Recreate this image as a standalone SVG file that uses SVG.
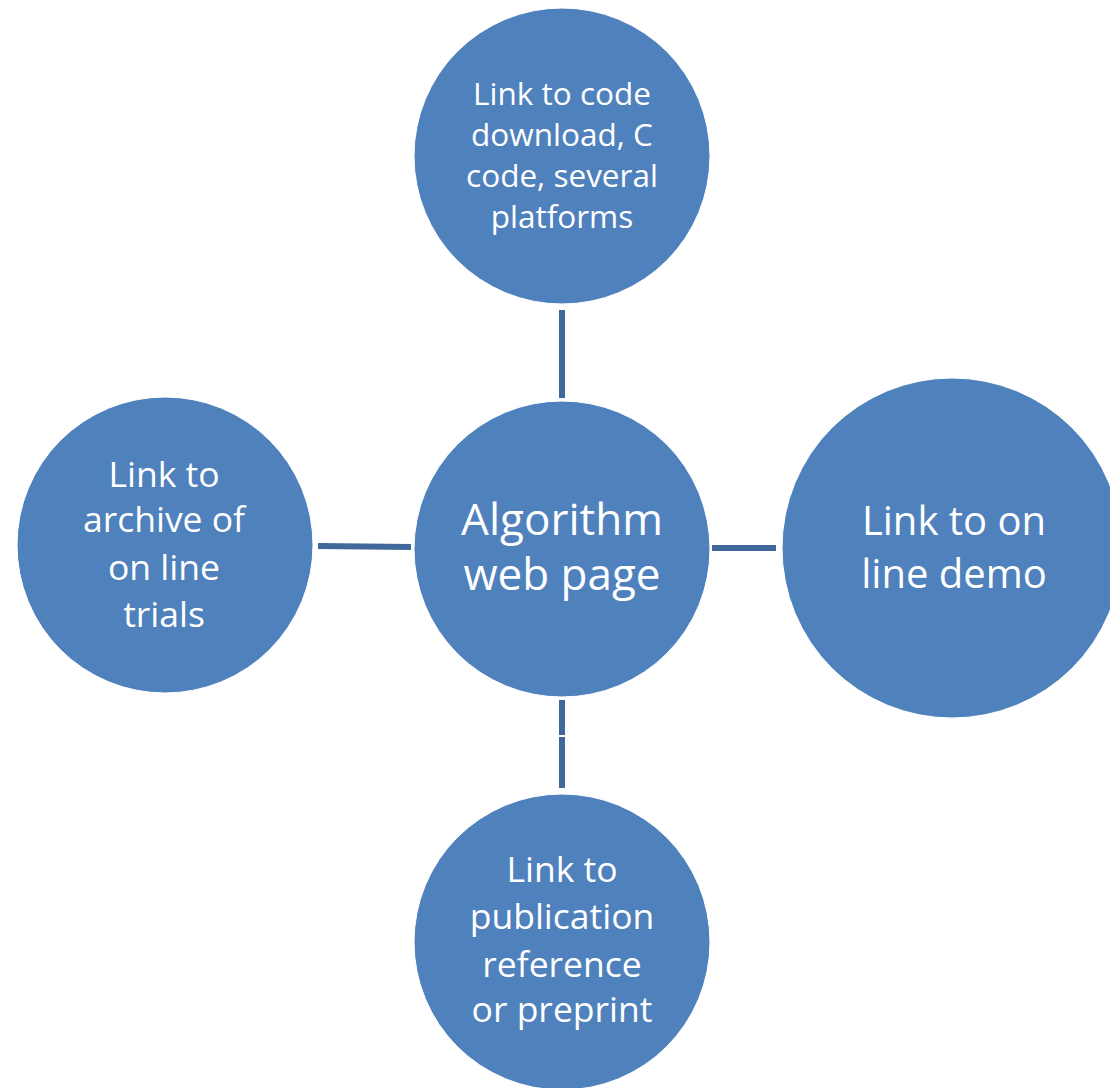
<svg xmlns="http://www.w3.org/2000/svg" width="1110" height="1088" viewBox="0 0 1110 1088">
<style>
.node{fill:#4F81BD;stroke:#ffffff;stroke-width:1}
.lbl{fill:#ffffff;font-family:"Open Sans","Liberation Sans",sans-serif;text-anchor:middle}
.con{stroke:#41689A;stroke-width:6;fill:none}
</style>
<rect width="1110" height="1088" fill="#ffffff"/>
<g id="connectors">
<line class="con" x1="562" y1="310" x2="562" y2="398"/>
<line class="con" x1="712" y1="548" x2="776" y2="548"/>
<line class="con" x1="318" y1="546" x2="411" y2="547"/>
<line class="con" x1="562" y1="700" x2="562" y2="735"/>
<line class="con" x1="562" y1="737" x2="562" y2="788"/>
</g>
<g id="node-center">
<circle class="node" cx="562" cy="549" r="148"/>
<text class="lbl" font-size="44"><tspan x="562" y="535">Algorithm</tspan><tspan x="562" y="590">web page</tspan></text>
</g>
<g id="node-top">
<circle class="node" cx="562" cy="156" r="148"/>
<text class="lbl" font-size="31.5"><tspan x="562" y="105">Link to code</tspan><tspan x="562" y="146">download, C</tspan><tspan x="562" y="187">code, several</tspan><tspan x="562" y="228">platforms</tspan></text>
</g>
<g id="node-right">
<circle class="node" cx="952" cy="548" r="170"/>
<text class="lbl" font-size="40"><tspan x="954" y="535">Link to on</tspan><tspan x="954" y="588">line demo</tspan></text>
</g>
<g id="node-left">
<circle class="node" cx="165" cy="545" r="148"/>
<text class="lbl" font-size="35.5"><tspan x="164" y="487">Link to</tspan><tspan x="164" y="532">archive of</tspan><tspan x="164" y="580">on line</tspan><tspan x="164" y="627">trials</tspan></text>
</g>
<g id="node-bottom">
<circle class="node" cx="562" cy="942" r="148"/>
<text class="lbl" font-size="35.5"><tspan x="562" y="882">Link to</tspan><tspan x="562" y="929">publication</tspan><tspan x="562" y="977">reference</tspan><tspan x="562" y="1022">or preprint</tspan></text>
</g>
</svg>
